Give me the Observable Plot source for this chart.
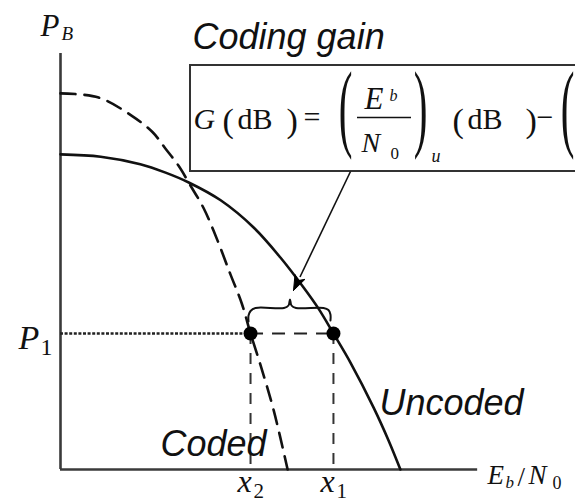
<!DOCTYPE html>
<html><head><meta charset="utf-8">
<script src="https://cdn.jsdelivr.net/npm/d3@7"></script>
<script src="https://cdn.jsdelivr.net/npm/@observablehq/plot@0.6"></script>
<style>
body{margin:0;background:#fff;overflow:hidden}
#chart svg{display:block;overflow:hidden}
</style>
</head><body><div id="chart"></div>
<script>
// ---- data (arbitrary units: Eb/N0 on x, P_B on y) ----
const uncodedEbN0 = [0, 0.78, 1.55, 2.04, 2.49, 3.11, 3.75, 4.27, 4.72, 5.01, 5.30, 5.63, 6.08, 6.37, 6.60];
const uncodedPB   = [0.672, 0.667, 0.651, 0.633, 0.612, 0.574, 0.516, 0.452, 0.388, 0.343, 0.290, 0.228, 0.132, 0.062, 0];
const codedEbN0   = [0, 0.74, 1.40, 1.79, 2.04, 2.29, 2.52, 2.78, 3.05, 3.30, 3.52, 3.69, 3.88, 4.14, 4.41];
const codedPB     = [0.802, 0.793, 0.753, 0.719, 0.684, 0.648, 0.606, 0.557, 0.488, 0.416, 0.354, 0.290, 0.224, 0.126, 0];
const P1 = 0.290;
const x1 = 5.30, x2 = 3.69;
const tickNames = ["x", "x"];
const tickSubs = ["2", "1"];
const tickValues = [x2, x1];
const xAxisEnd = 8.1, yAxisTop = 0.887;

// ---- layout ----
const W = 575, H = 501, mL = 60, mB = 32;
const xDomain = [0, 10], yDomain = [0, 1];
const xs = d3.scaleLinear(xDomain, [mL, W]);
const ys = d3.scaleLinear(yDomain, [H - mB, 0]);
const X = px => xs.invert(px), Y = py => ys.invert(py);

const uncoded = uncodedEbN0.map((x, i) => ({x, y: uncodedPB[i]}));
const coded = codedEbN0.map((x, i) => ({x, y: codedPB[i]}));

const serifIt = {fontFamily: "Liberation Serif, Times New Roman, serif", fontStyle: "italic"};
const serifUp = {fontFamily: "Liberation Serif, Times New Roman, serif", fontStyle: "normal"};
const sansIt  = {fontFamily: "Liberation Sans, Arial, sans-serif", fontStyle: "italic"};

function txt(items, size, style, extra = {}) {
  return Plot.text(items, {x: d => X(d.px), y: d => Y(d.py), text: d => d.t,
    textAnchor: "start", lineAnchor: "bottom", fontSize: size, fill: "#111", ...style, ...extra});
}

// brace (pixel geometry anchored at x2/x1)
const X2p = xs(x2), X1p = xs(x1), mid = (X2p + X1p) / 2 - 2, by = 307.5;
const brace = [[X2p-2,321],[X2p-2,315],[X2p,310.5],[X2p+5,by],[mid-6,by],[mid-1.5,305],[mid,299],[mid+1.5,305],[mid+6,by],[X1p-10,by],[X1p-5,309.5],[X1p-3,314],[X1p-3,320]]
  .map(([px, py]) => ({x: X(px), y: Y(py)}));

// arrow from box to curve
const aS = [350, 171], aT = [293, 290];
const len = Math.hypot(aT[0]-aS[0], aT[1]-aS[1]);
const ux = (aT[0]-aS[0])/len, uy = (aT[1]-aS[1])/len;
const hb = [aT[0]-15*ux, aT[1]-15*uy];
const tri = [[aT[0],aT[1]],[hb[0]-5.5*uy, hb[1]+5.5*ux],[hb[0]+4*ux, hb[1]+4*uy],[hb[0]+5.5*uy, hb[1]-5.5*ux],[aT[0],aT[1]]]
  .map(([px, py]) => ({x: X(px), y: Y(py)}));

const axisColor = "#3a3a3a";

const plot = Plot.plot({
  width: W, height: H,
  marginLeft: mL, marginRight: 0, marginTop: 0, marginBottom: mB,
  x: {domain: xDomain, axis: null},
  y: {domain: yDomain, axis: null},
  style: {background: "white", overflow: "hidden"},
  marks: [
    // formula box
    Plot.rect([0], {x1: X(190), x2: X(590), y1: Y(171), y2: Y(65), fill: "white", stroke: "#333", strokeWidth: 2}),
    // axes
    Plot.ruleX([0], {y1: 0, y2: yAxisTop, stroke: axisColor, strokeWidth: 2.6}),
    Plot.ruleY([0], {x1: 0, x2: xAxisEnd, stroke: axisColor, strokeWidth: 2.6}),
    // guides
    Plot.ruleY([P1], {x1: 0, x2: x2, stroke: "#222", strokeWidth: 2.4, strokeDasharray: "3,1.6"}),
    Plot.ruleY([P1], {x1: x2, x2: x1, stroke: "#222", strokeWidth: 2, strokeDasharray: "13,9"}),
    Plot.ruleX(tickValues, {y1: P1, y2: 0, stroke: "#333", strokeWidth: 2, strokeDasharray: "11,9"}),
    // curves
    Plot.line(coded, {x: "x", y: "y", curve: "catmull-rom", stroke: "#111", strokeWidth: 2.6, strokeDasharray: "15,9"}),
    Plot.line(uncoded, {x: "x", y: "y", curve: "catmull-rom", stroke: "#111", strokeWidth: 2.6}),
    // points
    Plot.dot(tickValues.map(v => ({x: v, y: P1})), {x: "x", y: "y", r: 7, fill: "#000"}),
    // brace
    Plot.line(brace, {x: "x", y: "y", curve: "catmull-rom", stroke: "#111", strokeWidth: 2}),
    // arrow
    Plot.link([0], {x1: X(aS[0]), y1: Y(aS[1]), x2: X(hb[0]), y2: Y(hb[1]), stroke: "#111", strokeWidth: 1.6}),
    Plot.line(tri, {x: "x", y: "y", fill: "#000", stroke: "#000", strokeWidth: 1}),
    // fraction bar
    Plot.ruleY([Y(117)], {x1: X(357), x2: X(411), stroke: "#111", strokeWidth: 1.6}),

    // sans labels
    txt([{t: "Coding gain", px: 192, py: 48}, {t: "Uncoded", px: 379, py: 414}, {t: "Coded", px: 160, py: 455}], 36, sansIt),
    // axis labels
    txt([{t: "P", px: 40, py: 35}], 31, serifIt),
    txt([{t: "B", px: 61, py: 39}], 19, serifIt),
    txt([{t: "P", px: 18, py: 348}], 34, serifIt),
    txt([{t: "1", px: 40, py: 354}], 24, serifUp),
    txt(tickValues.map((v, i) => ({t: tickNames[i], px: xs(v) - 13, py: 491})), 32, serifIt),
    txt(tickValues.map((v, i) => ({t: tickSubs[i], px: xs(v) + 3, py: 497})), 21, serifUp),
    txt([{t: "E", px: 487, py: 483}, {t: "N", px: 528, py: 483}], 27, serifIt),
    txt([{t: "b", px: 505, py: 487}], 17, serifIt),
    txt([{t: "/", px: 517, py: 485}], 27, serifUp),
    txt([{t: "0", px: 552, py: 488}], 18, serifUp),

    // formula
    txt([{t: "G", px: 193, py: 128}], 30, serifIt),
    txt([{t: "(", px: 222, py: 131}, {t: ")", px: 286, py: 131}, {t: "(", px: 452, py: 131}, {t: ")", px: 525, py: 131}], 34, serifUp),
    txt([{t: "dB", px: 237, py: 128}, {t: "dB", px: 467, py: 128}, {t: "=", px: 303, py: 126}, {t: "\u2212", px: 536, py: 126}], 30, serifUp),
    txt([{t: "E", px: 364, py: 108}], 31, serifIt),
    txt([{t: "b", px: 389, py: 100}], 16, serifIt),
    txt([{t: "N", px: 361, py: 151}], 28, serifIt),
    txt([{t: "0", px: 390, py: 158}], 17, serifUp),
    txt([{t: "u", px: 431, py: 161}], 18, serifIt),
    txt([{t: "(", px: 345, py: 107}, {t: ")", px: 420, py: 107}, {t: "(", px: 567, py: 107}], 98, serifUp, {textAnchor: "middle", lineAnchor: "middle"})
  ]
});

// thin out the tall formula parentheses by compressing them horizontally
plot.querySelectorAll('g[font-size="98"] text').forEach(t => {
  const g = document.createElementNS("http://www.w3.org/2000/svg", "g");
  t.parentNode.insertBefore(g, t);
  g.appendChild(t);
  g.setAttribute("style", "transform-box: fill-box; transform-origin: center; transform: scaleX(0.42);");
});

document.getElementById("chart").appendChild(plot);
</script>
</body></html>
